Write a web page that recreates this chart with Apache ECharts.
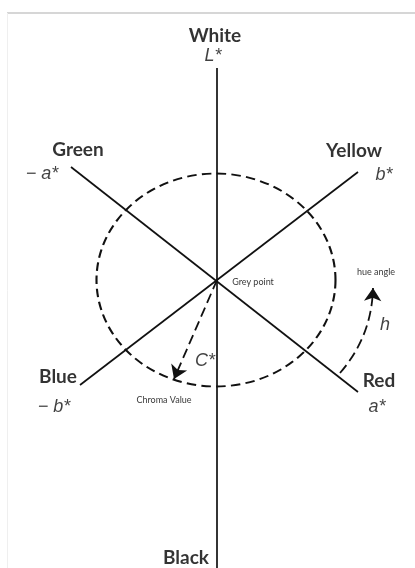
<!DOCTYPE html>
<html>
<head>
<meta charset="utf-8">
<script src="https://cdn.jsdelivr.net/npm/echarts@6/dist/echarts.min.js"></script>
<style>
  html, body { margin: 0; padding: 0; background: #fff; }
  #main { width: 415px; height: 568px; }
</style>
</head>
<body>
<div id="main"></div>
<script>
// diagram units: 1 unit = 1 px, grey point at the origin, y up
const lAxis = [[0, 212], [0, -290]];
const greenRed = [[-146, 113], [141, -112]];
const yellowBlue = [[141, 108], [-137, -105]];
const frameTop = [[-210, 267], [198, 267]];
const frameLeft = [[-210, 267], [-210, -288]];

const chromaCircle = [-1, 0];
const chromaArrow = [[0, 0], [-43, -99]];
const hueArc = [[123, -93], [156, -8]];

const colourNames = ['White', 'Green', 'Yellow', 'Blue', 'Red', 'Black'];
const colourPos = [[-2, 244], [-139, 130], [137, 129], [-159, -97], [162, -101], [-31, -278]];

const symbols = ['L*', '\u2212 a*', 'b*', '\u2212 b*', 'a*', 'C*', 'h'];
const symbolPos = [[-4, 224], [-175, 106], [167, 105], [-163, -127], [160, -127], [-12, -81], [168, -45]];

const notes = ['Grey point', 'Chroma Value', 'hue angle'];
const notePos = [[36, -2], [-53, -120], [159, 8]];

const face = "Lato, 'Liberation Sans', sans-serif";
const italicFace = "'Liberation Sans', sans-serif";

function labelled(names, pos) {
  return names.map((n, i) => ({ name: n, value: pos[i] }));
}

function textSeries(names, pos, font) {
  return {
    type: 'scatter',
    symbolSize: 1,
    itemStyle: { color: 'transparent' },
    silent: true,
    data: labelled(names, pos),
    label: Object.assign({
      show: true,
      position: 'inside',
      formatter: p => p.name,
      color: '#000',
      fontFamily: face
    }, font)
  };
}

const chart = echarts.init(document.getElementById('main'), null, { renderer: 'canvas' });

chart.setOption({
  animation: false,
  backgroundColor: '#fff',
  grid: { left: 0, right: 0, top: 0, bottom: 0 },
  xAxis: { type: 'value', min: -217, max: 198, show: false },
  yAxis: { type: 'value', min: -288, max: 280, show: false },
  series: [
    {
      type: 'lines',
      coordinateSystem: 'cartesian2d',
      silent: true,
      data: [
        { coords: frameTop, lineStyle: { color: '#c9c9c9', width: 1.5, opacity: 1 } },
        { coords: frameLeft, lineStyle: { color: '#efefef', width: 1, opacity: 1 } }
      ]
    },
    {
      type: 'lines',
      coordinateSystem: 'cartesian2d',
      silent: true,
      lineStyle: { color: '#111', width: 1.7, opacity: 1 },
      data: [{ coords: lAxis }, { coords: greenRed }, { coords: yellowBlue }]
    },
    {
      type: 'scatter',
      silent: true,
      symbol: 'circle',
      symbolSize: [239, 213],
      itemStyle: {
        color: 'transparent',
        borderColor: '#111',
        borderWidth: 2,
        borderType: [9, 5],
        opacity: 1
      },
      data: [chromaCircle]
    },
    {
      type: 'lines',
      coordinateSystem: 'cartesian2d',
      silent: true,
      symbol: ['none', 'arrow'],
      symbolSize: [8, 13],
      lineStyle: { color: '#111', width: 1.8, type: [10, 5], opacity: 1 },
      data: [
        { coords: chromaArrow },
        { coords: hueArc, lineStyle: { curveness: -0.18 } }
      ]
    },
    textSeries(colourNames, colourPos, { fontSize: 19, fontWeight: 'bold' }),
    textSeries(symbols, symbolPos, { fontSize: 18, fontStyle: 'italic', fontFamily: italicFace, color: '#111' }),
    textSeries(notes, notePos, { fontSize: 9 })
  ]
});
</script>
</body>
</html>
